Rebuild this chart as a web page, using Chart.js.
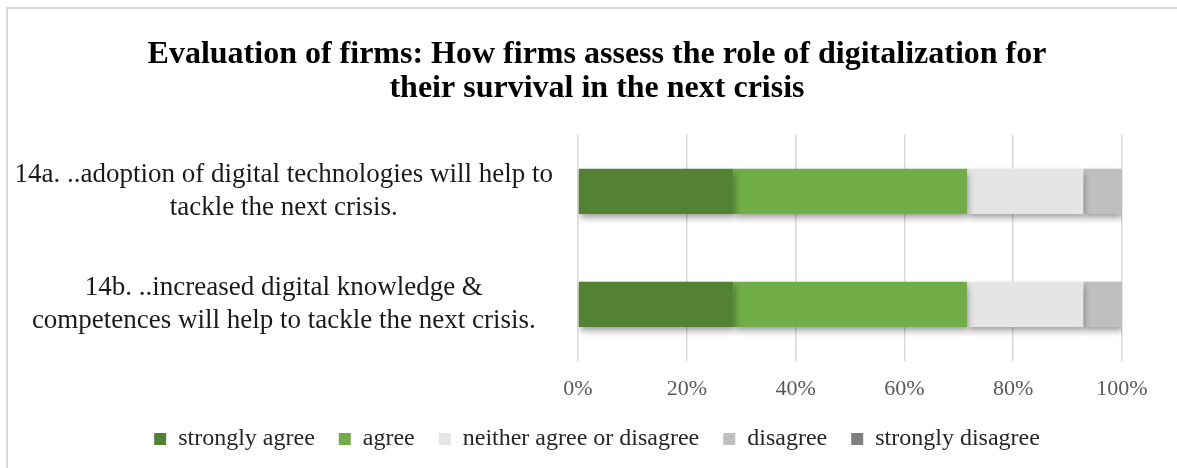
<!DOCTYPE html>
<html>
<head>
<meta charset="utf-8">
<script src="https://cdn.jsdelivr.net/npm/chart.js@4"></script>
<style>
    html, body { margin: 0; padding: 0; background: #fff; }
    #wrap { width: 1177px; height: 468px; }
</style>
</head>
<body>
<div id="wrap"><canvas id="digitalChart" width="1177" height="468"></canvas></div>
<script>
// Câu hỏi (mỗi phần tử là một nhãn nhiều dòng)
const questions = [
    ['14a. ..adoption of digital technologies will help to', 'tackle the next crisis.'],
    ['14b. ..increased digital knowledge &', 'competences will help to tackle the next crisis.']
];

// Tỷ lệ trả lời (%) theo từng mức độ
const stronglyAgree = [28.6, 28.6];
const agree = [42.9, 42.9];
const neitherAgree = [21.4, 21.4];
const disagree = [7.1, 7.1];
const stronglyDisagree = [0, 0];

const seriesNames = ['strongly agree', 'agree', 'neither agree or disagree', 'disagree', 'strongly disagree'];
const seriesColors = ['#548235', '#70AD47', '#E5E5E5', '#BFBFBF', '#7F7F7F'];

const xTicks = [0, 20, 40, 60, 80, 100];

const serif = '"Liberation Serif", "Times New Roman", serif';
Chart.defaults.font.family = serif;

// bóng đổ cho các thanh
const barShadow = {
    id: 'barShadow',
    beforeDatasetsDraw(chart) {
        const ctx = chart.ctx;
        ctx.save();
        ctx.shadowColor = 'rgba(0, 0, 0, 0.4)';
        ctx.shadowBlur = 7;
        ctx.shadowOffsetX = 1;
        ctx.shadowOffsetY = 4;
    },
    afterDatasetsDraw(chart) {
        chart.ctx.restore();
    }
};

// khung viền quanh biểu đồ
const chartFrame = {
    id: 'chartFrame',
    beforeDraw(chart) {
        const ctx = chart.ctx;
        ctx.save();
        ctx.fillStyle = '#ffffff';
        ctx.fillRect(0, 0, chart.width, chart.height);
        ctx.strokeStyle = '#D9D9D9';
        ctx.lineWidth = 2;
        ctx.strokeRect(7, 8, chart.width + 20, chart.height + 20);
        ctx.restore();
    }
};

function drawDigitalChart(canvasId) {
    const ctx = document.getElementById(canvasId).getContext('2d');
    const values = [stronglyAgree, agree, neitherAgree, disagree, stronglyDisagree];

    new Chart(ctx, {
        type: 'bar',
        data: {
            labels: questions,
            datasets: values.map((data, i) => ({
                label: seriesNames[i],
                data: data,
                backgroundColor: seriesColors[i],
                borderWidth: 0,
                barPercentage: 0.4,
                categoryPercentage: 1
            }))
        },
        options: {
            indexAxis: 'y',
            responsive: false,
            animation: false,
            layout: {
                padding: { left: 17, right: 0, top: 0, bottom: 7 }
            },
            scales: {
                x: {
                    stacked: true,
                    min: 0,
                    max: 100,
                    afterBuildTicks(scale) {
                        scale.ticks = xTicks.map(v => ({ value: v }));
                    },
                    afterFit(scale) {
                        scale.height = 42;
                    },
                    grid: { color: '#D9D9D9', lineWidth: 1.5, drawTicks: false },
                    border: { display: false },
                    ticks: {
                        padding: 15,
                        color: '#595959',
                        font: { family: serif, size: 22 },
                        callback: v => v + '%'
                    }
                },
                y: {
                    stacked: true,
                    grid: { display: false },
                    border: { display: false },
                    afterFit(scale) {
                        scale.width = 561;
                    },
                    ticks: {
                        crossAlign: 'center',
                        padding: 17,
                        color: '#1a1a1a',
                        font: { family: serif, size: 27, lineHeight: 1.22 }
                    }
                },
                // trục trống bên phải, chỉ để chừa lề
                yRight: {
                    position: 'right',
                    grid: { display: false },
                    border: { display: false },
                    ticks: { display: false },
                    afterFit(scale) {
                        scale.width = 55;
                    }
                }
            },
            plugins: {
                title: {
                    display: true,
                    text: ['Evaluation of firms: How firms assess the role of digitalization for',
                           'their survival in the next crisis'],
                    color: '#000',
                    font: { family: serif, size: 32, weight: 'bold', lineHeight: 1.06 },
                    padding: { top: 38, bottom: 29 }
                },
                legend: {
                    position: 'bottom',
                    labels: {
                        boxWidth: 12,
                        boxHeight: 12,
                        padding: 24,
                        color: '#262626',
                        font: { family: serif, size: 24 }
                    }
                },
                tooltip: { enabled: false }
            }
        },
        plugins: [chartFrame, barShadow]
    });
}

document.addEventListener('DOMContentLoaded', () => {
    drawDigitalChart('digitalChart');
});
</script>
</body>
</html>
